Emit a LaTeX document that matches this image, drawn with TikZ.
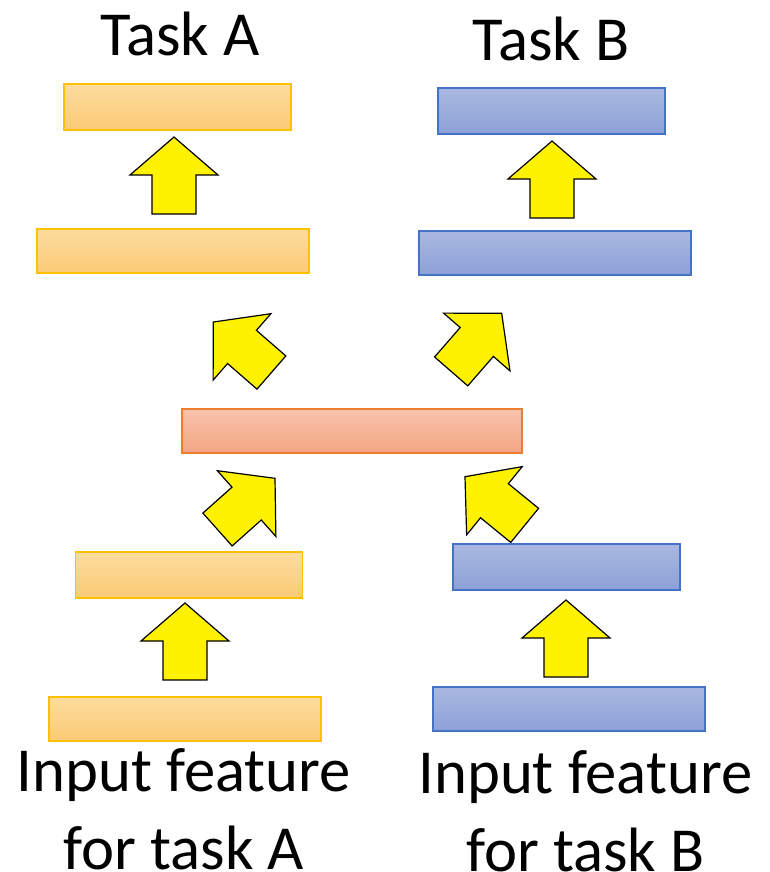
\documentclass[tikz,border=0pt]{standalone}
\usepackage{fontspec}
\setmainfont{Carlito}
\usetikzlibrary{positioning}

\definecolor{atop}{HTML}{FDDC9E}
\definecolor{abot}{HTML}{FBCB76}
\definecolor{aline}{HTML}{FFC000}
\definecolor{btop}{HTML}{AAB8E0}
\definecolor{bbot}{HTML}{8CA1D8}
\definecolor{bline}{HTML}{4472C4}
\definecolor{stop}{HTML}{F8C3AC}
\definecolor{sbot}{HTML}{F4A583}
\definecolor{sline}{HTML}{ED7D31}

\tikzset{
  bar/.style={draw, line width=0.9pt, inner sep=0pt, minimum width=204pt, minimum height=33pt},
  short/.style={minimum width=170.25pt, minimum height=34.5pt},
  barA/.style={bar, draw=aline, top color=atop, bottom color=abot},
  barB/.style={bar, draw=bline, top color=btop, bottom color=bbot},
  barS/.style={bar, draw=sline, top color=stop, bottom color=sbot, minimum width=255pt},
  lbl/.style={font=\fontsize{47}{58.5}\selectfont, align=center, anchor=base, inner sep=0pt},
  fat/.pic={
    \draw[fill=yellow, line width=0.9pt, line join=miter]
      (0,0) -- (44,38) -- (22,38) -- (22,77) -- (-22,77) -- (-22,38) -- (-44,38) -- cycle;
  }
}

\begin{document}
\begin{tikzpicture}[x=0.75pt, y=-0.75pt]
\useasboundingbox (0,0) rectangle (769,872);

% task A column
\node[barA] (a1) at (185,719) {};
\node[barA, short] (a2) at (189,575) {};
\node[barA] (a3) at (173,251) {};
\node[barA, short] (a4) at (177.5,107) {};

% task B column
\node[barB] (b1) at (569,709) {};
\node[barB, short] (b2) at (566.5,567) {};
\node[barB] (b3) at (555,253) {};
\node[barB, short] (b4) at (551.5,111) {};

% shared layer
\node[barS] (s) at (352,431) {};

% block arrows
\pic at (185,603) {fat};
\pic at (566,600) {fat};
\pic[rotate=-48.3] at (275,478.3) {fat};
\pic[rotate=50.8] at (465,476.7) {fat};
\pic[rotate=49] at (213.3,322) {fat};
\pic[rotate=-41] at (501.7,313.3) {fat};
\pic at (174,137) {fat};
\pic at (552,141) {fat};

% labels
\node[lbl] (ta) at (180,55) {Task A};
\node[lbl] (tb) at (551,60) {Task B};
\node[lbl] (ia) at (184,869) {Input feature\\for task A};
\node[lbl] (ib) at (585.5,871) {Input feature\\for task B};
\end{tikzpicture}
\end{document}
